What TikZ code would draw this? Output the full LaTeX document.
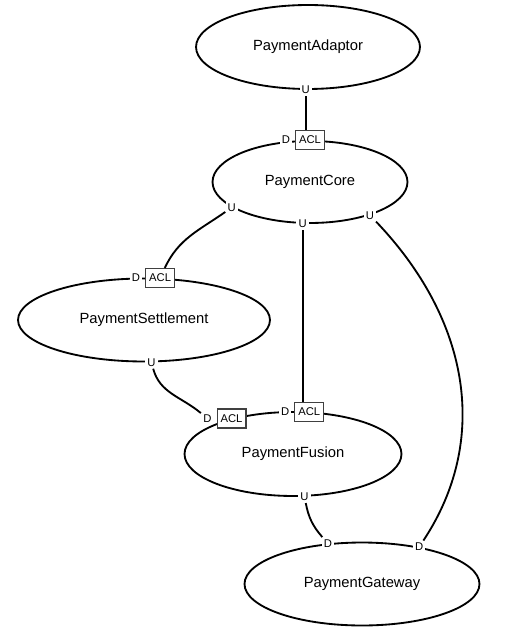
\documentclass[tikz,border=0pt]{standalone}
\usepackage{fontspec}
\setmainfont{Liberation Sans}
\usepackage{tikz}
\usetikzlibrary{positioning,shapes.geometric}

\begin{document}
\begin{tikzpicture}[x=0.02cm, y=-0.02cm,
ctx/.style={draw, ellipse, line width=1.05pt, inner sep=0pt, font=\fontsize{8.4}{10}\selectfont},
rel/.style={fill=white, inner sep=1.2pt, font=\fontsize{6.4}{7}\selectfont},
acl/.style={draw=black!75, line width=0.6pt, fill=white, inner sep=1pt, minimum width=0.58cm, minimum height=0.38cm, font=\fontsize{6.4}{7}\selectfont},
link/.style={line width=1.05pt}
]
\useasboundingbox (0,0) rectangle (513,634);
\node[ctx, minimum width=4.48cm, minimum height=1.68cm] (adaptor) at (308,47) {PaymentAdaptor};
\node[ctx, minimum width=3.9cm, minimum height=1.64cm] (core) at (310,182) {PaymentCore};
\node[ctx, minimum width=5.04cm, minimum height=1.66cm] (settle) at (144,320) {PaymentSettlement};
\node[ctx, minimum width=4.34cm, minimum height=1.68cm] (fusion) at (293,454) {PaymentFusion};
\node[ctx, minimum width=4.7cm, minimum height=1.66cm] (gateway) at (362,584) {PaymentGateway};
% upstream / downstream ends
\node[rel] (adU) at (adaptor.-93) {U};
\node[acl] (coreACL) at (core.north) {ACL};
\node[rel, left=1.5pt of coreACL] (coreD) {D};
\node[rel] (coreUl) at (core.-162) {U};
\node[rel] (coreUm) at (core.-100) {U};
\node[rel] (coreUr) at (core.-29) {U};
\node[acl] (setACL) at (settle.69) {ACL};
\node[rel, left=1.5pt of setACL] (setD) {D};
\node[rel] (setU) at (settle.-80) {U};
\node[acl] (fusACLl) at (fusion.150) {ACL};
\node[rel, left=1.5pt of fusACLl] (fusDl) {D};
\node[acl] (fusACLr) at (fusion.69) {ACL};
\node[rel, left=1.5pt of fusACLr] (fusDr) {D};
\node[rel] (fusU) at (fusion.-75) {U};
\node[rel] (gwDl) at (gateway.130) {D};
\node[rel] (gwDr) at (gateway.33) {D};
\draw[link] (adU) -- (adU |- coreACL.north);
\draw[link] (coreUl) to[out=-145, in=65] (setACL);
\draw[link] (coreUm) -- (coreUm |- fusACLr.north);
\draw[link] (coreUr) .. controls (470,320) and (490,440) .. (gwDr);
\draw[link] (setU) to[out=-75, in=140] (fusDl);
\draw[link] (fusU) to[bend right=15] (gwDl);
\end{tikzpicture}
\end{document}
